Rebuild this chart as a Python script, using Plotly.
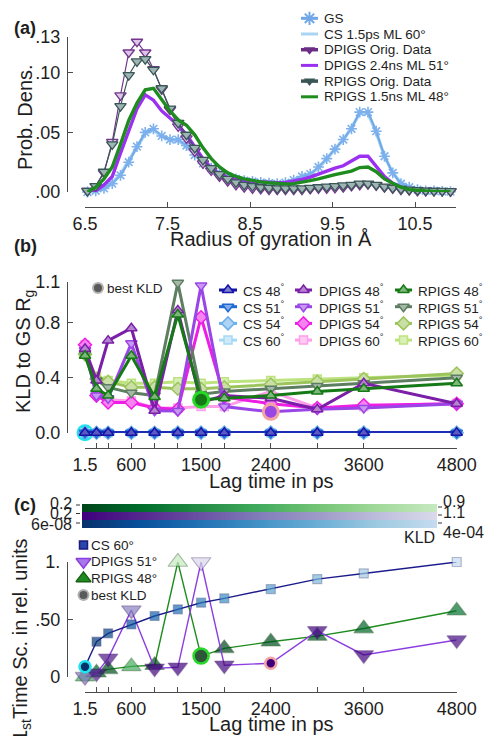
import numpy as np
import plotly.graph_objects as go

W, H = 494, 736
FONT = "Liberation Sans, Arial, Helvetica, sans-serif"
INK = "#1e1e1e"
AXIS = "#4a4a4a"


def fx(x):
    """pixel column -> paper fraction"""
    return x / W


def fy(y):
    """pixel row (counted from the top) -> paper fraction"""
    return 1 - y / H


def mix(hex_color, t):
    """blend a hex colour toward white by fraction t"""
    h = hex_color.lstrip("#")
    r, g, b = (int(h[i:i + 2], 16) for i in (0, 2, 4))
    r, g, b = (round(c + (255 - c) * t) for c in (r, g, b))
    return f"rgb({r},{g},{b})"


# ---------------- (a) radius of gyration distributions ----------------
rg = [6.53, 6.63, 6.73, 6.83, 6.93, 7.03, 7.13, 7.23, 7.33, 7.43,
      7.53, 7.63, 7.73, 7.83, 7.93, 8.03, 8.13, 8.23, 8.33, 8.43,
      8.53, 8.63, 8.73, 8.83, 8.93, 9.03, 9.13, 9.23, 9.33, 9.43,
      9.53, 9.63, 9.73, 9.83, 9.93, 10.03, 10.13, 10.23, 10.33, 10.43,
      10.53, 10.63, 10.73, 10.83, 10.93]
gs = [0.000, 0.001, 0.003, 0.007, 0.014, 0.025, 0.038, 0.050, 0.053, 0.047,
      0.044, 0.044, 0.039, 0.031, 0.024, 0.020, 0.016, 0.013, 0.011, 0.0095,
      0.0088, 0.008, 0.0075, 0.007, 0.0078, 0.010, 0.013, 0.015, 0.021, 0.028,
      0.036, 0.044, 0.053, 0.067, 0.067, 0.051, 0.030, 0.016, 0.007, 0.004,
      0.002, 0.001, 0.001, 0.0005, 0.0003]
cs_ml60 = [0.000, 0.001, 0.003, 0.008, 0.015, 0.026, 0.038, 0.049, 0.052, 0.047,
           0.044, 0.043, 0.038, 0.031, 0.025, 0.020, 0.016, 0.013, 0.011, 0.0095,
           0.0088, 0.008, 0.0076, 0.0072, 0.008, 0.010, 0.012, 0.015, 0.020, 0.028,
           0.036, 0.044, 0.054, 0.066, 0.066, 0.050, 0.030, 0.016, 0.0075, 0.004,
           0.002, 0.001, 0.001, 0.0005, 0.0003]
dpigs_orig = [0.001, 0.005, 0.016, 0.042, 0.081, 0.117, 0.126, 0.117, 0.103, 0.086,
              0.069, 0.055, 0.045, 0.034, 0.024, 0.018, 0.013, 0.009, 0.006, 0.004,
              0.003, 0.0025, 0.002, 0.002, 0.002, 0.002, 0.002, 0.0025, 0.003, 0.003,
              0.0035, 0.004, 0.005, 0.006, 0.0065, 0.0055, 0.004, 0.003, 0.002, 0.0015,
              0.001, 0.001, 0.001, 0.0008, 0.0005]
dpigs_ml51 = [0.000, 0.001, 0.006, 0.013, 0.0325, 0.052, 0.070, 0.0815, 0.077, 0.068,
              0.062, 0.056, 0.048, 0.038, 0.028, 0.020, 0.015, 0.012, 0.0105, 0.0095,
              0.009, 0.0085, 0.008, 0.0078, 0.008, 0.009, 0.0105, 0.0125, 0.015, 0.018,
              0.020, 0.022, 0.026, 0.030, 0.030, 0.021, 0.013, 0.0073, 0.004, 0.002,
              0.0012, 0.0008, 0.0005, 0.0003, 0.0002]
rpigs_orig = [0.001, 0.005, 0.017, 0.040, 0.072, 0.098, 0.1095, 0.1115, 0.1025, 0.087,
              0.070, 0.058, 0.048, 0.037, 0.027, 0.020, 0.015, 0.011, 0.008, 0.006,
              0.005, 0.004, 0.0035, 0.003, 0.003, 0.003, 0.003, 0.0035, 0.004, 0.0045,
              0.005, 0.0055, 0.006, 0.007, 0.007, 0.006, 0.0045, 0.0035, 0.0025, 0.002,
              0.0015, 0.0012, 0.001, 0.001, 0.0008]
rpigs_ml48 = [0.000, 0.004, 0.011, 0.021, 0.040, 0.060, 0.0745, 0.0857, 0.087, 0.077,
              0.068, 0.0605, 0.056, 0.048, 0.037, 0.028, 0.021, 0.016, 0.013, 0.011,
              0.0095, 0.0085, 0.0078, 0.0072, 0.0068, 0.007, 0.008, 0.0095, 0.011, 0.013,
              0.0145, 0.016, 0.0175, 0.0205, 0.021, 0.017, 0.011, 0.0073, 0.004, 0.002,
              0.0012, 0.0008, 0.0005, 0.0003, 0.0002]
rg_ticks = [6.5, 7.5, 8.5, 9.5, 10.5, 11.0]
rg_ticktext = ["6.5", "7.5", "8.5", "9.5", "10.5", ""]
dens_ticks = [0.0, 0.05, 0.10, 0.13]
dens_ticktext = [".00", ".05", ".10", ".13"]

# ---------------- (b) KLD against lag time ----------------
lag = [1.5, 150, 300, 600, 900, 1200, 1500, 1800, 2400, 3000, 3600, 4800]
lag_ticktext = ["1.5", "", "", "600", "", "", "1500", "", "2400", "", "3600", "4800"]
kld_cs48 = [2e-06, 1e-05, 2e-05, 4e-05, 6e-05, 8e-05, 1.0e-04, 1.2e-04, 1.5e-04, 1.8e-04, 2.2e-04, 2.8e-04]
kld_cs51 = [3e-06, 1e-05, 3e-05, 5e-05, 7e-05, 9e-05, 1.1e-04, 1.3e-04, 1.7e-04, 2.0e-04, 2.4e-04, 3.0e-04]
kld_cs54 = [4e-06, 2e-05, 3e-05, 6e-05, 8e-05, 1.1e-04, 1.3e-04, 1.5e-04, 1.9e-04, 2.3e-04, 2.7e-04, 3.3e-04]
kld_cs60 = [6e-08, 2e-05, 4e-05, 7e-05, 1.0e-04, 1.3e-04, 1.6e-04, 1.9e-04, 2.4e-04, 2.9e-04, 3.4e-04, 4e-04]
kld_dpigs48 = [0.61, 0.38, 0.67, 0.76, 0.16, 0.89, 0.22, 0.27, 0.25, 0.17, 0.36, 0.21]
kld_dpigs51 = [0.60, 0.27, 0.25, 0.65, 0.16, 0.158, 1.07, 0.19, 0.152, 0.17, 0.18, 0.21]
kld_dpigs54 = [0.64, 0.27, 0.22, 0.22, 0.18, 0.17, 0.84, 0.26, 0.21, 0.18, 0.20, 0.21]
kld_dpigs60 = [0.64, 0.29, 0.24, 0.23, 0.18, 0.18, 0.19, 0.19, 0.30, 0.18, 0.19, 0.215]
kld_rpigs48 = [0.56, 0.32, 0.27, 0.56, 0.26, 0.86, 0.24, 0.25, 0.27, 0.30, 0.32, 0.36]
kld_rpigs51 = [0.57, 0.38, 0.33, 0.29, 0.27, 1.09, 0.28, 0.30, 0.32, 0.34, 0.36, 0.40]
kld_rpigs54 = [0.57, 0.39, 0.37, 0.33, 0.33, 0.32, 0.32, 0.33, 0.35, 0.37, 0.39, 0.43]
kld_rpigs60 = [0.57, 0.41, 0.38, 0.36, 0.36, 0.37, 0.36, 0.37, 0.38, 0.39, 0.40, 0.42]
kld_ticks = [0.0, 0.4, 0.8, 1.1]
kld_ticktext = ["0.0", "0.4", "0.8", "1.1"]

# ---------------- (c) first time scale against lag time ----------------
ts_cs60 = [0.087, 0.305, 0.378, 0.456, 0.529, 0.587, 0.645, 0.683, 0.764, 0.851, 0.900, 1.000]
ts_dpigs51 = [0.0, 0.030, 0.160, 0.580, 0.073, 0.082, 1.000, 0.100, 0.117, 0.400, 0.190, 0.320]
ts_rpigs48 = [0.0, 0.035, 0.064, 0.090, 0.100, 1.000, 0.180, 0.247, 0.305, 0.354, 0.420, 0.575]
ts_ticks = [0.0, 0.5, 1.0]
ts_ticktext = ["0", ".50", "1."]

# ---------------- styling ----------------
GREENS = ["#00441b", "#006d2c", "#238b45", "#41ab5d", "#74c476", "#a1d99b", "#c7e9c0"]
PURPLES = ["#3f007d", "#54278f", "#6a51a3", "#807dba", "#9e9ac8", "#bcbddc", "#dadaeb"]
BLUES = ["#08306b", "#08519c", "#2171b5", "#4292c6", "#6baed6", "#9ecae1", "#c6dbef"]


def scale(cols):
    n = len(cols) - 1
    return [[i / n, c] for i, c in enumerate(cols)]


HL_CS, HL_DP, HL_RP = "#1ee4ee", "#f4a3a3", "#27d827"

b_style = {
    "CS 48": ("#1414a8", "triangle-up"),
    "CS 51": ("#1d6ad4", "triangle-down"),
    "CS 54": ("#6cafea", "diamond"),
    "CS 60": ("#a6d7f3", "square"),
    "DPIGS 48": ("#7b1fa8", "triangle-up"),
    "DPIGS 51": ("#9a45e6", "triangle-down"),
    "DPIGS 54": ("#ee1ee4", "diamond"),
    "DPIGS 60": ("#ff9ee9", "square"),
    "RPIGS 48": ("#157a15", "triangle-up"),
    "RPIGS 51": ("#5d7e61", "triangle-down"),
    "RPIGS 54": ("#9cc45c", "diamond"),
    "RPIGS 60": ("#bde37e", "square"),
}
b_values = {
    "CS 48": kld_cs48, "CS 51": kld_cs51, "CS 54": kld_cs54, "CS 60": kld_cs60,
    "DPIGS 48": kld_dpigs48, "DPIGS 51": kld_dpigs51, "DPIGS 54": kld_dpigs54, "DPIGS 60": kld_dpigs60,
    "RPIGS 48": kld_rpigs48, "RPIGS 51": kld_rpigs51, "RPIGS 54": kld_rpigs54, "RPIGS 60": kld_rpigs60,
}
sym_size = {"triangle-up": 10, "triangle-down": 10, "diamond": 10, "square": 8}

fig = go.Figure()


def add(tr, ax):
    tr.update(xaxis="x" if ax == 1 else f"x{ax}", yaxis="y" if ax == 1 else f"y{ax}",
              showlegend=False, hoverinfo="skip", cliponaxis=False)
    fig.add_trace(tr)


# ---- panel (a) curves ----
add(go.Scatter(x=rg, y=cs_ml60, mode="lines", line=dict(color="#a9d5f3", width=3.4)), 1)
add(go.Scatter(x=rg, y=gs, mode="lines+markers", line=dict(color="#6fa7e7", width=2),
               marker=dict(symbol="asterisk-open", size=9, color="#7db1ed",
                           line=dict(color="#7db1ed", width=1.6))), 1)
add(go.Scatter(x=rg, y=dpigs_orig, mode="lines+markers", line=dict(color="#74378f", width=1.2),
               marker=dict(symbol="triangle-down", size=10, color="#dcc6e8",
                           line=dict(color="#74378f", width=1.3))), 1)
add(go.Scatter(x=rg, y=dpigs_ml51, mode="lines", line=dict(color="#9b30f0", width=3.4)), 1)
add(go.Scatter(x=rg, y=rpigs_orig, mode="lines+markers", line=dict(color="#3b5656", width=1.2),
               marker=dict(symbol="triangle-down", size=10, color="#9fb5b5",
                           line=dict(color="#3b5656", width=1.3))), 1)
add(go.Scatter(x=rg, y=rpigs_ml48, mode="lines", line=dict(color="#1e8c1e", width=3.4)), 1)

# ---- panel (b) KLD curves ----
b_order = ["RPIGS 60", "RPIGS 54", "DPIGS 60", "DPIGS 54", "RPIGS 51", "DPIGS 51",
           "DPIGS 48", "RPIGS 48"]
for name in b_order:
    col, sym = b_style[name]
    add(go.Scatter(x=lag, y=b_values[name], mode="lines+markers", line=dict(color=col, width=3),
                   marker=dict(symbol=sym, size=sym_size[sym], color=mix(col, 0.45),
                               line=dict(color=col, width=1.5))), 2)

# best-KLD highlights in (b)
best = [(kld_cs60, HL_CS, HL_CS, 14), (kld_dpigs51, "#9a45e6", HL_DP, 15),
        (kld_rpigs48, "#157a15", HL_RP, 15)]
for vals, fill, ring, sz in best:
    i = int(np.argmin(vals))
    add(go.Scatter(x=[lag[i]], y=[vals[i]], mode="markers",
                   marker=dict(symbol="circle", size=sz, color=fill, line=dict(color=ring, width=3))), 2)

for name in ["CS 60", "CS 54", "CS 51", "CS 48"]:
    col, sym = b_style[name]
    add(go.Scatter(x=lag, y=b_values[name], mode="lines+markers", line=dict(color=col, width=3),
                   marker=dict(symbol=sym, size=sym_size[sym], color=mix(col, 0.3),
                               line=dict(color=col, width=1.5))), 2)

# ---- panel (c) time scales coloured by KLD ----
bar_x0, bar_len, bar_th = 82, 355, 8
c_series = [
    # values, kld, line colour, symbol, size, colorscale, bar top row, outline, highlight
    (ts_rpigs48, kld_rpigs48, "#1e8c1e", "triangle-up", 17, GREENS, 504, "rgba(0,55,0,0.45)", HL_RP),
    (ts_dpigs51, kld_dpigs51, "#8c3fe0", "triangle-down", 17, PURPLES, 512, "rgba(50,0,90,0.45)", HL_DP),
    (ts_cs60, kld_cs60, "#1c1c8c", "square", 9, BLUES, 520, "rgba(10,20,90,0.4)", HL_CS),
]
for ts, kl, lc, sym, sz, cols, bar_y, edge, ring in c_series:
    ib = int(np.argmin(kl))
    add(go.Scatter(x=lag, y=ts, mode="lines", line=dict(color=lc, width=1.4)), 3)
    sizes = [0 if i == ib else sz for i in range(len(lag))]
    add(go.Scatter(x=lag, y=ts, mode="markers",
                   marker=dict(symbol=sym, size=sizes, color=kl, colorscale=scale(cols),
                               cmin=min(kl), cmax=max(kl), line=dict(color=edge, width=1.2),
                               showscale=True,
                               colorbar=dict(orientation="h", x=fx(bar_x0), xanchor="left",
                                             y=fy(bar_y), yanchor="top", len=bar_len, lenmode="pixels",
                                             thickness=bar_th, thicknessmode="pixels", xpad=0, ypad=0,
                                             outlinewidth=0, showticklabels=False, ticks=""))), 3)
    add(go.Scatter(x=[lag[ib]], y=[ts[ib]], mode="markers",
                   marker=dict(symbol="circle", size=15 if sym == "triangle-up" else 11,
                               color=cols[0] if sym != "triangle-up" else "#2f553a",
                               line=dict(color=ring, width=2.6))), 3)


# ---------------- hand-built legends on a pixel overlay ----------------
def key(x0, x1, y, line=None, marker=None):
    if line:
        add(go.Scatter(x=[x0, x1], y=[y, y], mode="lines", line=line), 4)
    if marker:
        add(go.Scatter(x=[(x0 + x1) / 2], y=[y], mode="markers", marker=marker), 4)


annotations = []


def text(x, y, s, size=13.5, anchor="left", **kw):
    annotations.append(dict(x=fx(x), y=fy(y), xref="paper", yref="paper", text=s, showarrow=False,
                            xanchor=anchor, yanchor="middle", font=dict(family=FONT, size=size, color=INK),
                            **kw))


# legend of (a)
a_keys = [
    ("GS", dict(color="#6fa7e7", width=3),
     dict(symbol="asterisk-open", size=11, color="#6fa7e7", line=dict(color="#6fa7e7", width=2))),
    ("CS 1.5ps ML 60°", dict(color="#a9d5f3", width=3), None),
    ("DPIGS Orig. Data", dict(color="#6b2d86", width=3.5), dict(symbol="triangle-down", size=10, color="#6b2d86")),
    ("DPIGS 2.4ns ML 51°", dict(color="#9b30f0", width=3), None),
    ("RPIGS Orig. Data", dict(color="#3b5656", width=3.5), dict(symbol="triangle-down", size=10, color="#3b5656")),
    ("RPIGS 1.5ns ML 48°", dict(color="#1e8c1e", width=3), None),
]
for r, (lab, ln, mk) in enumerate(a_keys):
    y = 18.3 + 15.7 * r
    key(301, 318, y, ln, mk)
    text(322, y, lab)

# legend of (b): three columns
cols_b = [("CS", 219, 237, 241), ("DPIGS", 295, 312, 317), ("RPIGS", 395, 412, 416)]
for grp, x0, x1, xt in cols_b:
    for r, ang in enumerate(["48", "51", "54", "60"]):
        name = f"{grp} {ang}"
        col, sym = b_style[name]
        y = 290 + 16.7 * r
        key(x0, x1, y, dict(color=col, width=3),
            dict(symbol=sym, size=sym_size[sym], color=mix(col, 0.45), line=dict(color=col, width=1.5)))
        text(xt, y, f"{name}<sup>°</sup>")
key(96, 100, 288, None, dict(symbol="circle", size=10, color="#5a5a5a", line=dict(color="#b0b0b0", width=2)))
text(105, 288, "best KLD")

# legend of (c)
c_keys = [
    ("CS 60°", dict(symbol="square", size=8, color="#2a46a8", line=dict(color="#1a1a80", width=1.5))),
    ("DPIGS 51°", dict(symbol="triangle-down", size=13, color="#a678ea", line=dict(color="#8a3fe0", width=1.5))),
    ("RPIGS 48°", dict(symbol="triangle-up", size=13, color="#1f8a1f", line=dict(color="#156015", width=1.5))),
    ("best KLD", dict(symbol="circle", size=10, color="#5a5a5a", line=dict(color="#b0b0b0", width=2))),
]
for r, (lab, mk) in enumerate(c_keys):
    y = 545 + 16.7 * r
    key(81.5, 85.5, y, None, mk)
    text(89, y, lab)

# colour-bar end labels, formatted from the KLD ranges
shapes = []
bar_rows = [(kld_rpigs48, "{:.1f}", 503, 501), (kld_dpigs51, "{:.1f}", 513.5, 512.5),
            (kld_cs60, "{:.0e}", 524, 532)]
for kl, fmt, yl, yr in bar_rows:
    text(74, yl, fmt.format(min(kl)), size=16, anchor="right")
    text(441, yr, fmt.format(max(kl)), size=16, anchor="left")
for yy in (505, 513.5, 523):
    shapes.append(dict(type="line", xref="paper", yref="paper", x0=fx(76), x1=fx(80), y0=fy(yy), y1=fy(yy),
                       line=dict(color="#333", width=1)))
for yy in (507, 515, 523):
    shapes.append(dict(type="line", xref="paper", yref="paper", x0=fx(438), x1=fx(442), y0=fy(yy), y1=fy(yy),
                       line=dict(color="#333", width=1)))
text(437, 537, "KLD", size=16, anchor="right")

# panel labels and axis titles
for lab, y in (("(a)", 28), ("(b)", 246), ("(c)", 505)):
    text(12, y, f"<b>{lab}</b>", size=18)
text(271, 239, "Radius of gyration in Å", size=20, anchor="center")
text(271, 481, "Lag time in ps", size=20, anchor="center")
text(271, 724, "Lag time in ps", size=20, anchor="center")
text(25, 117, "Prob. Dens.", size=20, anchor="center", textangle=-90)
text(24, 352, "KLD to GS R<sub>g</sub>", size=20, anchor="center", textangle=-90)
text(21, 640, "1<sub>st</sub>Time Sc. in rel. units", size=20, anchor="center", textangle=-90)


# ---------------- axes ----------------
def xax(x0, x1, rng, ypos, tv, tt):
    return dict(domain=[fx(x0), fx(x1)], range=rng, anchor="free", position=fy(ypos), automargin=False,
                showline=True, linecolor=AXIS, linewidth=1.3, ticks="inside", ticklen=5, tickwidth=1.3,
                tickcolor=AXIS, tickvals=tv, ticktext=tt, tickfont=dict(family=FONT, size=18, color=INK),
                showgrid=False, zeroline=False, fixedrange=True)


def yax(top, bottom, rng, xpos, tv, tt):
    return dict(domain=[fy(bottom), fy(top)], range=rng, anchor="free", position=fx(xpos), automargin=False,
                showline=True, linecolor=AXIS, linewidth=1.3, ticks="inside", ticklen=5, tickwidth=1.3,
                tickcolor=AXIS, tickvals=tv, ticktext=tt, tickfont=dict(family=FONT, size=18, color=INK),
                ticklabelstandoff=3, showgrid=False, zeroline=False, fixedrange=True)


fig.update_layout(
    template="none",
    width=W, height=H, margin=dict(l=0, r=0, t=0, b=0, pad=0, autoexpand=False),
    paper_bgcolor="white", plot_bgcolor="rgba(0,0,0,0)", showlegend=False,
    font=dict(family=FONT, color=INK),
    xaxis=xax(85, 456.25, [6.5, 11.0], 207, rg_ticks, rg_ticktext),
    yaxis=yax(37, 192, [0, 0.13], 67, dens_ticks, dens_ticktext),
    xaxis2=xax(85, 456.7, [1.5, 4800], 448, lag, lag_ticktext),
    yaxis2=yax(281.5, 432.7, [0, 1.1], 67, kld_ticks, kld_ticktext),
    xaxis3=xax(85, 456.7, [1.5, 4800], 692, lag, lag_ticktext),
    yaxis3=yax(562, 676.7, [0, 1.0], 67, ts_ticks, ts_ticktext),
    xaxis4=dict(domain=[0, 1], range=[0, W], visible=False, fixedrange=True, anchor="y4", automargin=False),
    yaxis4=dict(domain=[0, 1], range=[H, 0], visible=False, fixedrange=True, anchor="x4", automargin=False),
    annotations=annotations, shapes=shapes,
)

fig.write_html("out.html")
